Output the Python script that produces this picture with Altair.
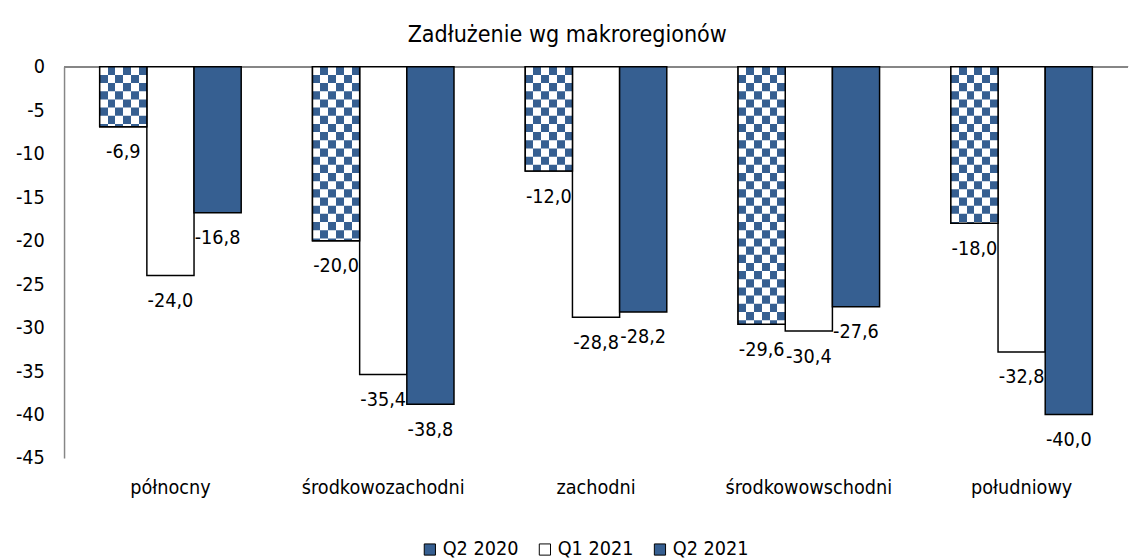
import altair as alt
import pandas as pd

regions = ["północny", "środkowozachodni", "zachodni", "środkowowschodni", "południowy"]
series = ["Q2 2020", "Q1 2021", "Q2 2021"]
q2_2020 = [-6.9, -20.0, -12.0, -29.6, -18.0]
q1_2021 = [-24.0, -35.4, -28.8, -30.4, -32.8]
q2_2021 = [-16.8, -38.8, -28.2, -27.6, -40.0]

BLUE = "#365F91"
GRAY = "#868686"
FONT = "DejaVu Sans Condensed, DejaVu Sans, sans-serif"

records = []
for s, vals in zip(series, [q2_2020, q1_2021, q2_2021]):
    for r, v in zip(regions, vals):
        records.append({"region": r, "series": s, "value": v})
df = pd.DataFrame(records)
df_q2020 = df[df["series"] == "Q2 2020"]

# checkerboard rows (odd rows inverted) for the patterned series
ROW_H = 0.94
cells = []
for r, v in zip(regions, q2_2020):
    k = 0
    while k * ROW_H < -v - 1e-9:
        if k % 2 == 1:
            cells.append({"region": r, "series": "Q2 2020",
                          "top": -k * ROW_H, "bottom": max(-(k + 1) * ROW_H, v)})
        k += 1
cells_df = pd.DataFrame(cells)


def stripes(first):
    cols = [first, BLUE if first == "white" else "white"]
    stops = []
    for i in range(6):
        c = cols[i % 2]
        stops.append(alt.GradientStop(color=c, offset=i / 6))
        stops.append(alt.GradientStop(color=c, offset=(i + 1) / 6))
    return alt.Gradient(gradient="linear", stops=stops, x1=0, x2=1, y1=0, y2=0)


x_enc = alt.X(
    "region:N", sort=regions, title=None,
    scale=alt.Scale(domain=regions, paddingInner=0.335, paddingOuter=0.1675),
    axis=alt.Axis(domain=False, ticks=False, tickSize=0, labelPadding=20, labelAngle=0,
                  labelFontSize=20, labelFont=FONT, labelColor="black"),
)
xo_enc = alt.XOffset("series:N", sort=series,
                     scale=alt.Scale(domain=series, paddingInner=0, paddingOuter=0))
y_scale = alt.Scale(domain=[-45, 0], nice=False, zero=False)
y_axis = alt.Axis(values=list(range(-45, 1, 5)), labelExpr="'' + datum.value", grid=False,
                  ticks=False, tickSize=0, labelPadding=20, domainColor=GRAY, domainWidth=1.5,
                  labelFontSize=20, labelFont=FONT, labelColor="black", title=None)
y_enc = alt.Y("value:Q", scale=y_scale, axis=y_axis)

zero = alt.Chart(df).mark_rule(color=GRAY, strokeWidth=1.5).encode(y=alt.Y(datum=0, scale=y_scale))

bars = alt.Chart(df).mark_bar(stroke="black", strokeWidth=1.5).encode(
    x=x_enc, xOffset=xo_enc, y=y_enc,
    color=alt.Color("series:N", sort=series,
                    scale=alt.Scale(domain=series, range=[BLUE, "white", BLUE]),
                    legend=alt.Legend(orient="none", legendX=362, legendY=481, direction="horizontal",
                                      title=None, symbolType="square", symbolSize=130,
                                      symbolStrokeColor="black", symbolStrokeWidth=1,
                                      labelFontSize=20, labelFont=FONT, labelColor="black",
                                      labelOffset=3, columnPadding=16)),
)

checker_base = alt.Chart(df_q2020).mark_bar(fill=stripes("white"), strokeWidth=0).encode(
    x=x_enc, xOffset=xo_enc, y=y_enc,
)
checker_rows = alt.Chart(cells_df).mark_bar(fill=stripes(BLUE), strokeWidth=0).encode(
    x=x_enc, xOffset=xo_enc,
    y=alt.Y("top:Q", scale=y_scale, axis=y_axis), y2="bottom:Q",
)
outline = alt.Chart(df_q2020).mark_bar(fill="white", fillOpacity=0, stroke="black", strokeWidth=1.5).encode(
    x=x_enc, xOffset=xo_enc, y=y_enc,
)

labels = alt.Chart(df).transform_calculate(
    label="replace(replace(format(datum.value, '.1f'), '.', ','), '\u2212', '-')"
).mark_text(dy=26, fontSize=20, font=FONT, color="black", baseline="middle").encode(
    x=x_enc, xOffset=xo_enc, y=y_enc, text="label:N",
)

chart = alt.layer(zero, bars, checker_base, checker_rows, outline, labels).properties(
    width=1082, height=398,
    padding={"left": 7, "top": 10, "right": 0, "bottom": 0},
    title=alt.TitleParams("Zadłużenie wg makroregionów", fontSize=23.5, font=FONT,
                          fontWeight="normal", color="black", anchor="middle",
                          frame="bounds", offset=11, dx=-5),
).configure_view(stroke=None)

chart.save("out.html", embed_options={"renderer": "svg", "actions": False})
